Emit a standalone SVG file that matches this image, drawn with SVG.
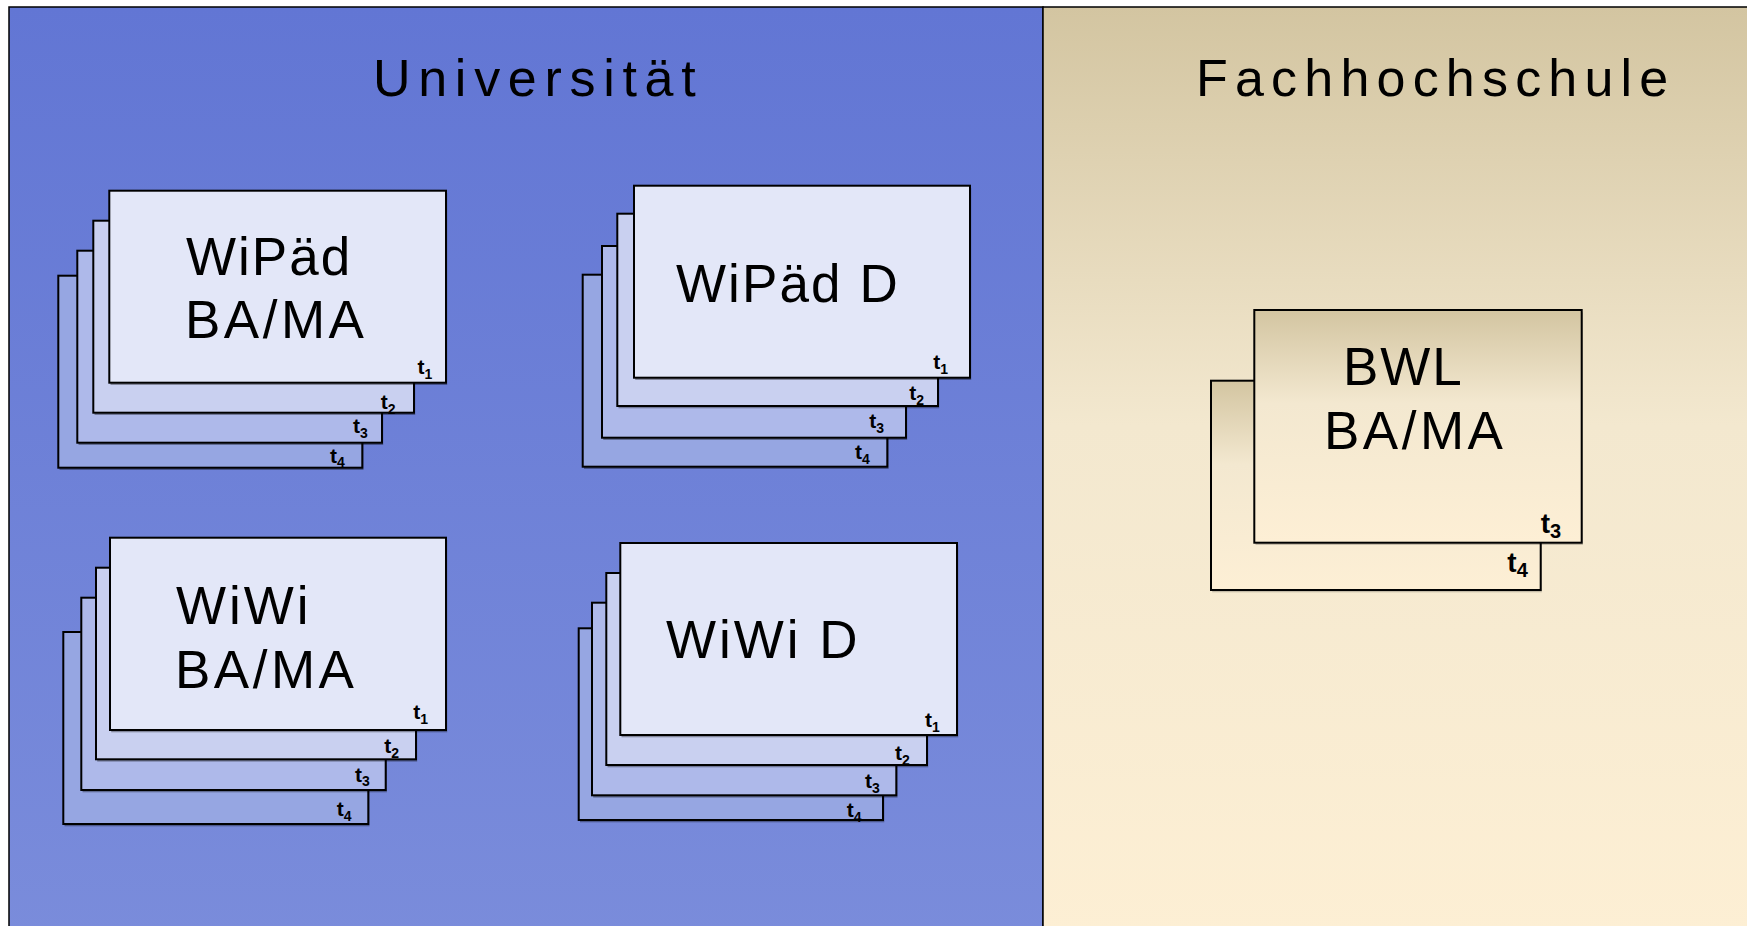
<svg xmlns="http://www.w3.org/2000/svg" width="1747" height="926" viewBox="0 0 1747 926">
<defs>
<linearGradient id="gBlue" x1="0" y1="0" x2="0" y2="1">
<stop offset="0" stop-color="#6276D4"/>
<stop offset="1" stop-color="#7A8CDB"/>
</linearGradient>
<linearGradient id="gBeige" x1="0" y1="0" x2="0" y2="1">
<stop offset="0" stop-color="#D3C5A1"/>
<stop offset="0.45" stop-color="#F3E8CF"/>
<stop offset="1" stop-color="#FDEFD4"/>
</linearGradient>
<linearGradient id="gCard" x1="0" y1="0" x2="0" y2="1">
<stop offset="0" stop-color="#D3C5A1"/>
<stop offset="0.4" stop-color="#F3E8D0"/>
<stop offset="1" stop-color="#FDEFD5"/>
</linearGradient>
<style>
.title{font-family:"Liberation Sans",Arial,sans-serif;font-size:52px;fill:#000}
.lbl{font-family:"Liberation Sans",Arial,sans-serif;font-size:53px;letter-spacing:1.5px;fill:#000}
.ba{letter-spacing:3.5px}
.t{font-family:"Liberation Sans",Arial,sans-serif;font-weight:bold;font-size:21px;fill:#000}
.t .s{font-size:14px}
.tb{font-family:"Liberation Sans",Arial,sans-serif;font-weight:bold;font-size:28px;fill:#000}
.tb .s{font-size:20px}
.card{stroke:#000;stroke-width:2}
.sh{fill:#000;opacity:0.35}
.c1{fill:#E3E7F8}
.c2{fill:#C9D0F0}
.c3{fill:#AEB9EA}
.c4{fill:#96A6E2}
</style>
</defs>
<rect x="0" y="0" width="1747" height="926" fill="#FFFFFF"/>
<g id="panel-universitaet">
<rect x="9" y="7" width="1034" height="930" fill="url(#gBlue)" stroke="#000" stroke-width="1.5"/>
<text class="title" x="373" y="96" style="letter-spacing:7.7px">Universität</text>
</g>
<g id="panel-fachhochschule">
<rect x="1043" y="7" width="710" height="930" fill="url(#gBeige)" stroke="#000" stroke-width="1.5"/>
<text class="title" x="1196" y="96" style="letter-spacing:7.2px">Fachhochschule</text>
</g>
<g id="connectors"></g>
<g id="node-wipaed-bama">
<rect class="sh" x="59.5" y="278" width="304" height="192"/>
<rect class="card c4" x="58.3" y="275.7" width="304" height="192"/>
<text class="t" x="330" y="462.7">t<tspan class="s" dy="4.5">4</tspan></text>
<rect class="sh" x="78.5" y="253" width="304.7" height="192"/>
<rect class="card c3" x="77.3" y="250.7" width="304.7" height="192"/>
<text class="t" x="353" y="433.3">t<tspan class="s" dy="4.5">3</tspan></text>
<rect class="sh" x="94.5" y="223" width="320.7" height="192"/>
<rect class="card c2" x="93.3" y="220.7" width="320.7" height="192"/>
<text class="t" x="380.7" y="409">t<tspan class="s" dy="4.5">2</tspan></text>
<rect class="sh" x="110.5" y="193" width="336.7" height="192"/>
<rect class="card c1" x="109.3" y="190.7" width="336.7" height="192"/>
<text class="t" x="417.5" y="374">t<tspan class="s" dy="4.5">1</tspan></text>
<text class="lbl" x="186" y="275" style="letter-spacing:2px">WiPäd</text>
<text class="lbl ba" x="185" y="338">BA/MA</text>
</g>
<g id="node-wipaed-d">
<rect class="sh" x="584" y="277" width="304.6" height="192"/>
<rect class="card c4" x="582.7" y="274.7" width="304.6" height="192"/>
<text class="t" x="855" y="459.3">t<tspan class="s" dy="4.5">4</tspan></text>
<rect class="sh" x="603.2" y="248.3" width="304" height="191.7"/>
<rect class="card c3" x="602" y="246" width="304" height="191.7"/>
<text class="t" x="869.3" y="428.3">t<tspan class="s" dy="4.5">3</tspan></text>
<rect class="sh" x="618.5" y="216" width="320.7" height="192.3"/>
<rect class="card c2" x="617.3" y="213.7" width="320.7" height="192.3"/>
<text class="t" x="909.3" y="400">t<tspan class="s" dy="4.5">2</tspan></text>
<rect class="sh" x="635.2" y="188" width="336" height="192"/>
<rect class="card c1" x="634" y="185.7" width="336" height="192"/>
<text class="t" x="933.3" y="369.3">t<tspan class="s" dy="4.5">1</tspan></text>
<text class="lbl" x="676" y="302" style="letter-spacing:2.1px">WiPäd D</text>
</g>
<g id="node-wiwi-bama">
<rect class="sh" x="64.5" y="634.3" width="305" height="192"/>
<rect class="card c4" x="63.3" y="632" width="305" height="192"/>
<text class="t" x="336.7" y="816">t<tspan class="s" dy="4.5">4</tspan></text>
<rect class="sh" x="82.5" y="600" width="304.4" height="192.3"/>
<rect class="card c3" x="81.3" y="597.7" width="304.4" height="192.3"/>
<text class="t" x="355" y="781.7">t<tspan class="s" dy="4.5">3</tspan></text>
<rect class="sh" x="97.2" y="570" width="320" height="191.6"/>
<rect class="card c2" x="96" y="567.7" width="320" height="191.6"/>
<text class="t" x="384.3" y="753.3">t<tspan class="s" dy="4.5">2</tspan></text>
<rect class="sh" x="111.2" y="540" width="336" height="192.3"/>
<rect class="card c1" x="110" y="537.7" width="336" height="192.3"/>
<text class="t" x="413.3" y="719">t<tspan class="s" dy="4.5">1</tspan></text>
<text class="lbl" x="176" y="624" style="letter-spacing:3px">WiWi</text>
<text class="lbl ba" x="175" y="688">BA/MA</text>
</g>
<g id="node-wiwi-d">
<rect class="sh" x="580" y="630.6" width="304.3" height="191.7"/>
<rect class="card c4" x="578.7" y="628.3" width="304.3" height="191.7"/>
<text class="t" x="846.7" y="817.3">t<tspan class="s" dy="4.5">4</tspan></text>
<rect class="sh" x="593.2" y="605" width="304.3" height="192.6"/>
<rect class="card c3" x="592" y="602.7" width="304.3" height="192.6"/>
<text class="t" x="865" y="788.3">t<tspan class="s" dy="4.5">3</tspan></text>
<rect class="sh" x="607.5" y="575.3" width="320.7" height="192"/>
<rect class="card c2" x="606.3" y="573" width="320.7" height="192"/>
<text class="t" x="895" y="760">t<tspan class="s" dy="4.5">2</tspan></text>
<rect class="sh" x="621.5" y="545.3" width="336.7" height="192"/>
<rect class="card c1" x="620.3" y="543" width="336.7" height="192"/>
<text class="t" x="925" y="727.3">t<tspan class="s" dy="4.5">1</tspan></text>
<text class="lbl" x="666" y="658" style="letter-spacing:3px">WiWi D</text>
</g>
<g id="node-bwl-bama">
<rect class="sh" x="1212.2" y="383" width="329.7" height="209.3" style="opacity:0.2"/>
<rect class="card" x="1211" y="380.7" width="329.7" height="209.3" fill="url(#gCard)"/>
<text class="tb" x="1507.3" y="571.7">t<tspan class="s" dy="5">4</tspan></text>
<rect class="sh" x="1255.5" y="312.3" width="327.4" height="232.7" style="opacity:0.2"/>
<rect class="card" x="1254.3" y="310" width="327.4" height="232.7" fill="url(#gCard)"/>
<text class="tb" x="1540.7" y="533.3">t<tspan class="s" dy="5">3</tspan></text>
<text class="lbl" x="1343" y="385" style="letter-spacing:2px">BWL</text>
<text class="lbl ba" x="1324" y="449">BA/MA</text>
</g>
</svg>
